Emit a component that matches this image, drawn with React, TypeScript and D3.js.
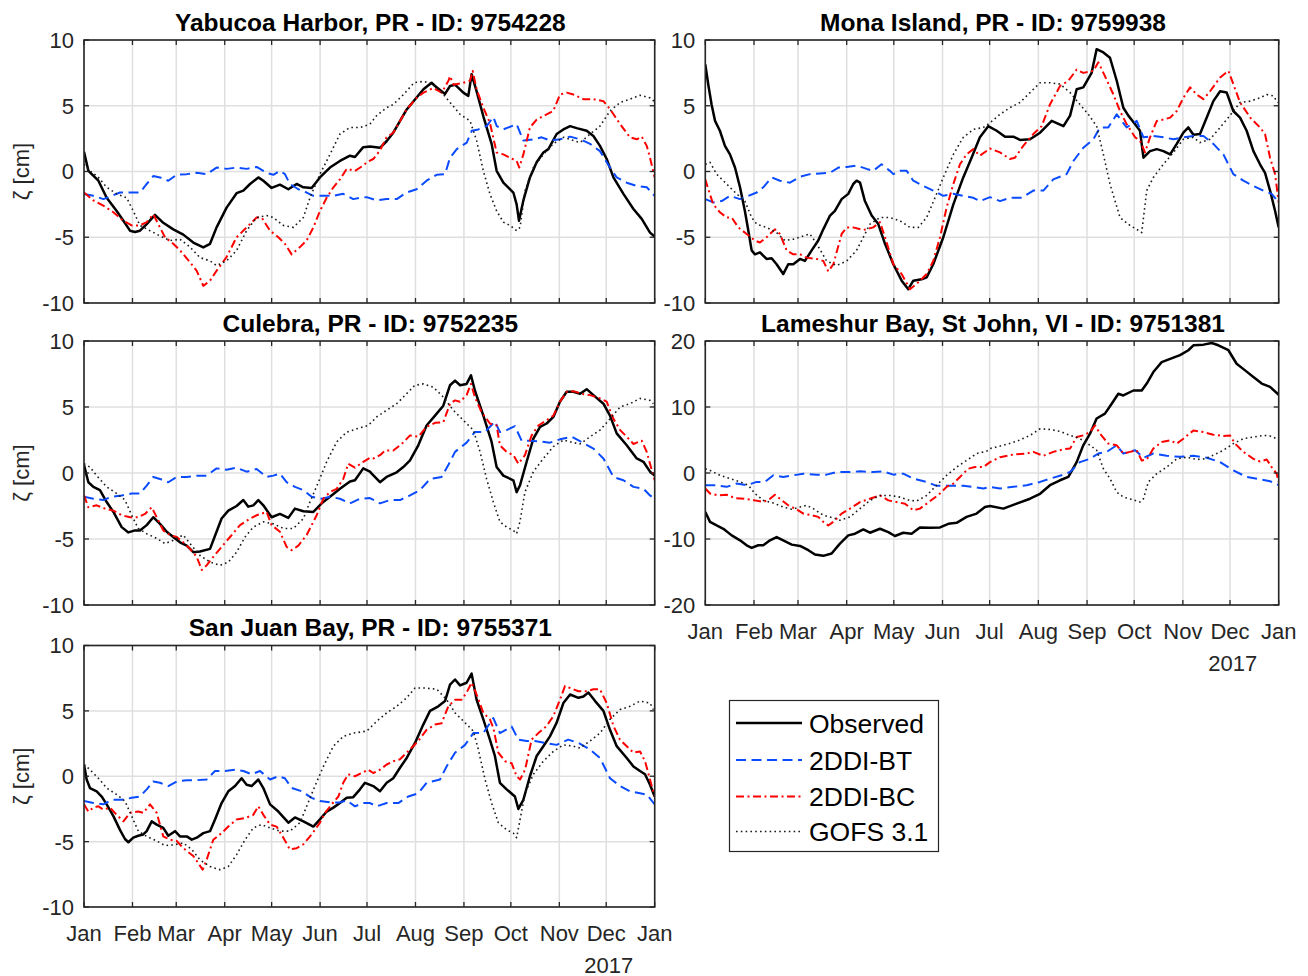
import React from "react";
import * as d3 from "d3";

type Pt = [number, number];

// x values are days after 1 Jan 2017, y values are water level anomaly in cm
const MONTH_LABELS = ["Jan", "Feb", "Mar", "Apr", "May", "Jun", "Jul", "Aug", "Sep", "Oct", "Nov", "Dec", "Jan"];
const YEAR_LABEL = "2017";
const SERIES_NAMES = ["Observed", "2DDI-BT", "2DDI-BC", "GOFS 3.1"];
const STATION_TITLES = [
  "Yabucoa Harbor, PR - ID: 9754228",
  "Mona Island, PR - ID: 9759938",
  "Culebra, PR - ID: 9752235",
  "Lameshur Bay, St John, VI - ID: 9751381",
  "San Juan Bay, PR - ID: 9755371",
];
const Y_TICKS_10 = [-10, -5, 0, 5, 10];
const Y_TICKS_20 = [-20, -10, 0, 10, 20];

const yabucoaObserved: Pt[] = [[0,1.5],[2.8,0.05],[9.2,-0.7],[14.5,-2],[20.9,-3],[25.2,-3.75],[29.4,-4.5],[32.6,-4.6],[35.8,-4.5],[40.1,-4],[45.4,-3.3],[50.7,-3.9],[57.1,-4.4],[63.5,-4.8],[69.9,-5.4],[76.3,-5.77],[80.6,-5.5],[84.8,-4.25],[91.2,-2.75],[97.6,-1.65],[101.9,-1.45],[106.2,-0.95],[111.5,-0.45],[114.7,-0.7],[120,-1.25],[125.3,-1.0],[130.7,-1.35],[136,-0.95],[140.3,-1.2],[145.6,-1.25],[150.9,-0.45],[157.3,0.3],[163.7,0.8],[170.1,1.2],[173.3,1.1],[178.6,1.85],[183,1.9],[189.3,1.8],[193.5,2.3],[197.8,2.95],[206.3,4.7],[211.8,5.5],[217.1,6.25],[222.3,6.75],[224.5,6.5],[230.9,5.9],[234.1,6.5],[237.3,6.6],[242.6,6.0],[245.8,5.75],[247.9,7.4],[251.1,6.1],[255.4,4.2],[260.7,2.1],[263.9,0.05],[268.2,-0.85],[274.6,-1.6],[276.7,-2.5],[278.2,-3.75],[281,-2.2],[285.2,-0.45],[289.5,0.7],[293.8,1.45],[297,1.7],[302.3,2.85],[306.6,3.2],[310.9,3.45],[315.1,3.3],[321.5,3.1],[325.8,2.7],[330,1.95],[334.3,0.95],[338.6,-0.45],[345,-1.7],[351.4,-2.85],[356.7,-3.6],[362,-4.65],[365,-4.95]];
const yabucoaBT: Pt[] = [[0,-1.7],[6,-1.85],[12.4,-2.1],[17.7,-1.85],[23,-1.6],[35.8,-1.6],[40.1,-0.95],[44.3,-0.35],[48.6,-0.45],[53.9,-0.7],[59.3,-0.25],[65.7,-0.2],[72.1,-0.1],[78.4,-0.2],[84.8,0.3],[91.2,0.2],[97.6,0.3],[104,0.2],[110.4,0.35],[116.8,-0.1],[121.1,-0.25],[125.3,0.05],[128.5,-0.2],[131.7,-0.95],[137.1,-1.35],[142.4,-1.6],[146.7,-1.85],[159.5,-1.85],[165.8,-1.7],[172.2,-2.1],[176.5,-2.0],[180.8,-1.95],[187.2,-2.2],[193.5,-2.1],[200,-2.1],[206.3,-1.6],[212.7,-1.35],[219.1,-0.7],[225.5,-0.25],[230.9,-0.2],[234.1,1.05],[238.4,1.7],[244.8,2.2],[248,3.1],[252.2,3.2],[257.5,3.45],[261.8,4.15],[264,3.45],[268.2,3.2],[276.7,3.6],[281,2.35],[287.4,2.45],[292.7,2.6],[298.1,2.35],[304.4,2.45],[310.9,2.65],[317.3,2.45],[323.7,2.1],[330,1.55],[336.4,0.3],[340.7,-0.45],[347.1,-0.85],[353.5,-1.1],[359.9,-1.2],[365,-1.85]];
const yabucoaBC: Pt[] = [[0,-1.6],[6,-2.2],[12.4,-2.6],[18.8,-3.1],[25.2,-3.75],[30.5,-4.1],[35.8,-4.1],[40.1,-3.85],[44.3,-3.25],[47.5,-4.0],[51.8,-5.0],[57.1,-5.5],[61.4,-6.0],[67.8,-6.9],[72.1,-7.55],[76.3,-8.7],[80.6,-8.3],[84.8,-7.55],[91.2,-6.5],[97.6,-5.0],[104,-4.25],[110.4,-3.5],[113.6,-3.5],[119,-4.5],[124.3,-5.0],[128.5,-5.5],[132.8,-6.3],[138.1,-5.75],[142.4,-5.25],[146.7,-4.25],[150.9,-3.0],[155.2,-2.0],[159.5,-1.2],[163.7,-0.6],[168,0.2],[173.3,0.05],[178.6,0.45],[180.8,0.7],[185,0.95],[189.3,1.6],[193.5,2.6],[197.8,2.95],[206.3,4.7],[212.7,5.6],[217.1,6.0],[223.4,6.35],[228.8,6.0],[233.1,6.9],[234.1,7.25],[236.3,6.6],[242.6,6.75],[246.9,6.9],[248.6,7.65],[251.1,6.25],[255.4,4.85],[259.6,3.7],[263.9,1.45],[268.2,1.3],[272.5,1.05],[276.7,0.8],[278.4,0.3],[281,1.3],[285.2,3.35],[289.5,3.95],[295.9,4.35],[300.1,4.6],[304.4,5.85],[308.7,6.0],[313,5.85],[319.4,5.5],[325.8,5.5],[332.2,5.35],[336.4,4.75],[342.9,3.6],[349.2,2.6],[353.5,2.45],[356.7,2.65],[359.9,1.95],[362,1.05],[365,-0.45]];
const yabucoaGOFS: Pt[] = [[0,0.55],[3.8,0.05],[9.2,-0.45],[14.5,-1.2],[20.9,-1.7],[27.3,-2.0],[31.5,-3.0],[35.8,-4.1],[42.2,-4.5],[48.6,-4.9],[55,-5.25],[61.4,-5.15],[67.8,-5.75],[74.2,-6.55],[80.6,-6.8],[84.8,-7.15],[91.2,-6.8],[97.6,-6.0],[104,-4.5],[110.4,-3.5],[116.8,-3.35],[121.1,-3.5],[127.5,-4.1],[133.9,-4.25],[140.3,-3.5],[144.5,-2.0],[150.9,-0.2],[157.3,1.3],[163.7,2.85],[170.1,3.35],[176.5,3.35],[182.9,3.6],[187.2,4.25],[193.5,4.85],[197.8,5.1],[204.3,5.85],[211.1,6.75],[217.1,6.85],[223.4,6.65],[229.9,5.85],[235.2,5.1],[240.5,4.35],[246.9,3.85],[251.1,2.35],[255.4,0.05],[259.6,-1.7],[263.9,-3.0],[268.2,-3.85],[272.5,-4.1],[276.7,-4.5],[278.9,-4.25],[282.1,-1.45],[287.4,0.3],[293.8,1.3],[300.1,2.1],[306.6,2.6],[313,2.35],[317.3,2.2],[323.7,2.85],[330,3.45],[336.4,4.6],[342.9,5.25],[349.2,5.5],[355.6,5.8],[362,5.6],[365,5.3]];

const monaObserved: Pt[] = [[0,8.15],[1.9,6.6],[4,5.1],[6.2,3.85],[9.3,3.1],[12.5,1.95],[15.7,1.3],[18.9,0.3],[22.1,-1.2],[25.2,-3.0],[27.4,-4.5],[29.5,-6.0],[31.6,-6.3],[34.8,-6.15],[39,-6.65],[42.2,-6.6],[45.4,-7.05],[49.6,-7.8],[52.8,-7.05],[56,-7.05],[60.3,-6.65],[63.4,-6.8],[67.7,-6.0],[71.9,-5.25],[75.1,-4.4],[79.4,-3.35],[82.5,-3.0],[86.8,-2.1],[91,-1.7],[94.2,-0.95],[96.3,-0.7],[98.5,-0.85],[101.6,-2.25],[105.9,-3.35],[110.1,-4.0],[114.4,-5.5],[119.7,-7.05],[125,-8.3],[129.2,-8.95],[132.4,-8.3],[137.7,-8.2],[140.9,-8.05],[145.1,-7.05],[151.5,-5.0],[157.9,-2.5],[164.2,-0.45],[169.5,1.05],[174.8,2.6],[180.1,3.45],[185.5,3.1],[190.8,2.65],[196.1,2.65],[200.3,2.4],[206.7,2.45],[213.1,2.95],[220.5,3.85],[228,3.45],[232.2,4.25],[236.4,6.25],[240.6,6.4],[245.9,7.5],[249.1,9.3],[253.4,9.05],[257.6,8.65],[261.9,6.9],[266.1,4.85],[269.3,4.25],[273.6,3.6],[276.7,3.1],[278.9,1.05],[283.1,1.55],[287.4,1.7],[291.6,1.55],[295.9,1.3],[300.1,2.1],[304.3,2.95],[307.5,3.35],[310.7,2.8],[314.9,2.85],[319.2,4.1],[323.4,5.35],[327.7,6.1],[331.9,6.0],[336.1,4.6],[340.4,4.1],[344.6,3.1],[348.9,1.55],[353.1,0.55],[356.3,-0.1],[359.5,-1.45],[362.7,-3.0],[365,-4.25]];
const monaBT: Pt[] = [[0,-2.1],[5.1,-2.35],[10.4,-2.25],[15.7,-1.85],[22.1,-2.1],[27.4,-1.85],[32.7,-1.6],[36.9,-1.2],[42.2,-0.45],[47.5,-0.7],[53.9,-0.85],[60.3,-0.4],[66.6,-0.2],[73,-0.15],[79.4,-0.1],[84.7,0.3],[90,0.35],[96.3,0.45],[102.7,0.2],[106.9,0.05],[112.2,0.55],[117.5,0.05],[119.7,-0.2],[123.9,0.05],[128.2,0.05],[132.4,-0.7],[138.8,-1.1],[145.1,-1.45],[151.5,-1.85],[157.9,-1.7],[164.2,-1.85],[170.6,-2.0],[174.8,-2.25],[181.2,-1.95],[187.6,-2.25],[193.9,-2.0],[201.4,-2.0],[208.8,-1.45],[215.2,-1.45],[221.5,-0.6],[230,-0.2],[234.3,0.8],[240.6,1.8],[247,2.45],[251.2,3.35],[256.5,3.35],[261.9,4.35],[268.2,3.35],[274.6,3.85],[278.9,2.6],[285.2,2.7],[291.6,2.6],[298,2.45],[304.3,2.6],[310.7,2.7],[317.1,2.7],[323.4,2.1],[329.8,1.3],[336.1,-0.2],[342.5,-0.7],[348.9,-1.1],[355.2,-1.45],[360.5,-1.7],[365,-2.35]];
const monaBC: Pt[] = [[0,-0.6],[1.9,-1.35],[5.1,-2.5],[9.3,-3.1],[13.6,-3.5],[16.8,-3.5],[21,-4.25],[26.3,-4.75],[31.6,-5.25],[34.8,-5.4],[39,-5.0],[44.3,-4.4],[47.5,-4.75],[51.8,-6.0],[56,-6.3],[60.3,-6.3],[64.5,-6.55],[70.9,-6.65],[75.1,-6.8],[78.3,-7.6],[81.5,-7.05],[86.8,-4.75],[90,-4.25],[94.2,-4.25],[100.6,-4.45],[106.9,-4.25],[111.2,-3.85],[114.4,-5.0],[119.7,-7.05],[125,-7.8],[130.3,-8.95],[134.5,-8.55],[140.9,-7.8],[145.1,-6.8],[149.4,-5.0],[153.6,-2.75],[157.9,-0.95],[162.1,0.55],[166.3,1.3],[170.6,1.7],[174.8,1.2],[181.2,1.75],[187.6,1.45],[193.9,0.95],[197.1,1.05],[202.4,1.95],[208.8,2.85],[214.1,3.45],[219.4,5.1],[225.8,6.5],[231.1,6.9],[236.4,7.75],[240.6,7.5],[247,7.65],[250.2,8.3],[254.4,7.25],[259.8,5.85],[264,4.6],[268.2,3.6],[273.6,2.6],[276.7,2.35],[279.9,1.45],[283.1,2.6],[287.4,3.85],[291.6,3.95],[295.9,4.1],[300.1,4.6],[304.3,5.6],[308.6,6.4],[312.8,5.85],[317.1,5.5],[321.3,6.1],[327.7,7.15],[333,7.65],[336.1,6.65],[340.4,5.25],[346.9,4.1],[353.1,3.35],[356.3,2.85],[359.5,1.05],[362.7,-0.2],[365,-2.35]];
const monaGOFS: Pt[] = [[0,0.55],[3,0.7],[7.2,-0.2],[13.6,-0.95],[19.9,-1.7],[25.2,-2.25],[29.5,-3.5],[32.7,-4.0],[39,-4.25],[45.4,-4.65],[50.7,-5.25],[56,-5.15],[62.4,-4.9],[66.6,-4.75],[70.9,-5.5],[77.2,-6.8],[83.6,-7.15],[90,-6.8],[96.3,-6.0],[100.6,-5.0],[104.8,-4.0],[111.2,-3.5],[117.5,-3.5],[123.9,-3.75],[130.3,-4.25],[135.6,-4.25],[140.9,-3.5],[146.2,-2.0],[151.5,-0.45],[157.9,1.3],[164.2,2.6],[170.6,3.2],[177,3.35],[181.2,3.7],[187.6,4.35],[193.9,4.85],[200.3,5.25],[206.7,6.0],[213.1,6.75],[219.4,6.75],[225.8,6.65],[232.2,6.0],[238.5,5.1],[243.8,4.35],[249.1,3.45],[253.4,1.3],[257.6,-0.95],[264,-3.5],[270.3,-4.1],[274.6,-4.4],[277.8,-4.65],[281,-1.45],[285.2,-0.45],[291.6,0.55],[298,1.45],[304.3,2.45],[310.7,2.6],[314.9,2.2],[321.3,2.45],[327.7,3.35],[334,4.25],[340.4,5.25],[346.9,5.35],[353.1,5.6],[357.4,5.85],[361.6,5.75],[364.4,5.25]];

const culebraObserved: Pt[] = [[0,0.6],[2.8,-0.7],[6,-1.05],[10.2,-1.3],[14.5,-2.2],[18.8,-2.95],[24.1,-4.1],[28.4,-4.5],[32.6,-4.35],[35.8,-4.35],[40.1,-3.95],[44.3,-3.35],[48.6,-3.85],[52.9,-4.45],[57.1,-4.85],[61.4,-5.25],[65.7,-5.5],[69.9,-6.0],[74.2,-5.95],[80.6,-5.75],[83.8,-4.75],[88,-3.45],[92.3,-2.85],[97.6,-2.5],[101.9,-2.05],[105.1,-2.55],[108.3,-2.45],[111.5,-2.05],[114.7,-2.45],[120,-3.35],[125.3,-3.1],[130.7,-3.4],[134.9,-2.7],[140.3,-2.9],[146.7,-2.95],[152,-2.3],[157.3,-1.8],[163.7,-1.2],[170.1,-0.65],[173.3,-0.55],[178.6,0.35],[182.9,0.1],[184,-0.05],[189.3,-0.7],[193.5,-0.3],[200,0.05],[204.2,0.45],[208.5,0.95],[213.8,2.1],[219.1,3.6],[224.5,4.35],[229.8,5.1],[234.1,6.65],[237.3,7.0],[240.5,6.65],[244.7,6.75],[247.5,7.4],[250,6.25],[255.4,4.35],[260.7,2.35],[263.9,0.45],[268.2,-0.2],[274.6,-0.55],[276.7,-1.45],[278.8,-0.95],[283.1,0.85],[287.4,2.6],[291.7,3.5],[295.9,3.75],[300.2,4.25],[304.4,5.4],[308.7,6.15],[313,6.15],[317.3,6.0],[321.5,6.35],[325.8,5.9],[332.2,5.25],[336.4,4.35],[340.7,3.0],[347.1,2.1],[353.5,1.1],[357.8,0.85],[362,0.1],[365,-0.2]];
const culebraBT: Pt[] = [[0,-1.8],[6,-1.95],[12.4,-2.05],[17.7,-1.8],[24.1,-1.7],[30.5,-1.55],[35.8,-1.55],[40.1,-0.95],[44.3,-0.3],[48.6,-0.45],[53.9,-0.7],[59.3,-0.3],[65.7,-0.3],[72.1,-0.2],[78.4,-0.2],[84.8,0.35],[91.2,0.25],[97.6,0.4],[104,0.1],[110.4,0.3],[116.8,-0.3],[121.1,-0.2],[125.3,-0.05],[129.6,-0.7],[134.9,-1.05],[140.3,-1.3],[145.6,-1.8],[152,-1.95],[157.3,-1.8],[163.7,-1.95],[170.1,-2.3],[176.5,-1.95],[182.9,-1.9],[189.3,-2.3],[195.7,-2.05],[202.1,-2.05],[208.5,-1.7],[214.9,-1.3],[221.3,-0.45],[228.7,-0.3],[233,0.6],[237.3,1.6],[244.7,2.3],[250,3.1],[256.4,3.1],[262.8,3.9],[266,3.1],[270.3,3.25],[275.6,3.55],[279.9,2.45],[285.2,2.45],[291.6,2.4],[298,2.3],[304.4,2.55],[311.8,2.75],[318.2,2.35],[325.8,1.85],[332.2,1.1],[338.6,-0.3],[345,-0.55],[351.4,-1.05],[357.8,-1.2],[362,-1.7],[365,-1.95]];
const culebraBC: Pt[] = [[0,-1.7],[2.8,-2.6],[8.1,-2.45],[13.4,-2.7],[18.8,-2.85],[24.1,-3.2],[29.4,-3.35],[34.7,-3.35],[39,-3.1],[43.3,-2.6],[46.5,-3.35],[50.7,-4.35],[55,-4.7],[59.3,-4.85],[63.5,-5.25],[67.8,-5.75],[72.1,-6.35],[75.3,-7.35],[78.4,-7.0],[82.7,-6.35],[88,-5.6],[93.4,-4.85],[99.8,-3.95],[106.2,-3.45],[110.4,-3.2],[116.8,-2.95],[120,-3.95],[125.3,-4.45],[129.6,-5.6],[132.8,-5.85],[137.1,-5.5],[142.4,-4.7],[148.8,-3.2],[153.1,-1.95],[157.3,-1.45],[161.6,-1.2],[165.8,-0.45],[169,0.7],[173.3,0.4],[178.6,0.85],[182.9,1.15],[185,1.1],[189.3,1.35],[192.5,1.7],[197.8,1.7],[203.2,2.2],[208.5,2.85],[213.8,2.75],[219.1,3.5],[224.5,3.8],[229.8,3.85],[234.1,5.25],[237.3,5.5],[240.5,5.4],[244.7,5.9],[247.5,6.75],[250,5.75],[254.3,4.6],[259.6,3.75],[263.9,3.6],[266,2.1],[270.3,1.6],[274.6,1.35],[277.8,0.7],[282,1.35],[286.3,2.85],[290.6,3.6],[295.9,4.0],[300.2,4.35],[304.4,5.4],[308.7,6.15],[313,6.2],[318.3,6.0],[323.7,5.9],[330,5.65],[334.3,5.4],[338.6,4.1],[342.9,3.25],[347.1,2.75],[351.4,2.2],[356.7,2.45],[359.9,1.6],[362,0.7],[365,-0.55]];
const culebraGOFS: Pt[] = [[0,0.7],[3.8,0.45],[8.1,-0.2],[14.5,-1.05],[20.9,-1.55],[26.2,-2.05],[30.5,-3.2],[34.7,-4.2],[40.1,-4.6],[46.5,-4.95],[51.8,-5.35],[57.1,-5.1],[63.5,-4.7],[68.9,-5.5],[74.2,-6.25],[80.6,-6.75],[87,-7.0],[92.3,-6.75],[97.6,-6.0],[103,-4.85],[108.3,-4.1],[114.7,-3.7],[121.1,-3.85],[127.5,-4.2],[133.9,-4.2],[140.3,-3.45],[144.5,-2.2],[149.9,-0.7],[155.2,0.85],[161.6,2.35],[168,3.1],[174.4,3.35],[181.8,3.6],[187.2,4.25],[193.5,4.75],[200,5.25],[206.3,6.0],[211.6,6.65],[217.1,6.75],[223.4,6.5],[229.8,5.75],[236.2,4.75],[242.6,4.0],[249,3.25],[253.3,1.6],[257.5,-0.45],[261.8,-2.2],[266,-3.7],[270.3,-4.1],[274.6,-4.35],[276.7,-4.6],[278.8,-3.7],[282,-1.45],[287.4,0.1],[293.8,1.1],[300.2,2.0],[306.6,2.5],[313,2.3],[317.3,2.2],[323.7,2.75],[330,3.25],[336.4,4.1],[342.9,5.0],[349.2,5.25],[355.6,5.65],[362,5.5],[364.1,5.25]];

const lameshurObserved: Pt[] = [[0,-5.9],[3,-7.4],[7.2,-7.95],[11.5,-8.45],[16.8,-9.45],[22.1,-10.2],[26.3,-10.95],[29.5,-11.35],[33.7,-10.95],[36.9,-10.95],[41.2,-10.2],[45.4,-9.7],[49.6,-10.2],[55,-10.85],[60.3,-11.05],[65.6,-11.7],[69.8,-12.35],[75.1,-12.55],[80.4,-12.2],[85.7,-10.7],[91,-9.45],[95.3,-9.2],[100.6,-8.55],[104.8,-9.05],[111.2,-8.45],[116.5,-8.95],[120.7,-9.55],[126,-9.05],[131.3,-9.2],[136.6,-8.25],[143,-8.3],[149.4,-8.25],[154.7,-7.7],[160,-7.55],[166.3,-6.65],[172.7,-6.15],[178,-5.15],[181.2,-5.0],[189.7,-5.4],[198.2,-4.65],[206.7,-3.9],[213.1,-3.15],[219.4,-1.85],[225.8,-1.1],[231.1,-0.6],[236.4,1.65],[240.6,4.2],[244.9,5.95],[249.1,8.25],[254.4,9.0],[258.7,10.5],[262.9,12.0],[266.1,11.75],[272.5,12.5],[277.8,12.5],[281,13.55],[285.2,15.3],[290.5,16.8],[295.9,17.3],[302.2,17.85],[307.5,18.6],[310.7,19.35],[317.1,19.45],[322.4,19.7],[326.6,19.35],[333,18.6],[338.2,16.55],[343.6,15.55],[348.9,14.55],[354.2,13.55],[359.5,13.05],[365,11.85]];
const lameshurBT: Pt[] = [[0,-1.85],[7.2,-1.85],[13.6,-2.1],[19.9,-1.6],[26.3,-1.85],[32.7,-1.35],[38,-1.35],[43.3,-0.35],[49.6,-0.6],[56,-0.35],[62.4,-0.1],[70.9,-0.25],[77.2,-0.25],[83.6,0.15],[92.1,0.15],[98.5,0.25],[106.9,0.15],[113.3,0.25],[119.7,-0.25],[126,-0.1],[132.4,-0.85],[140.9,-1.35],[147.3,-1.95],[155.7,-1.95],[164.2,-1.95],[170.6,-2.1],[177,-2.35],[181.2,-2.1],[187.6,-2.35],[196.1,-2.1],[204.6,-1.85],[213.1,-1.35],[219.4,-0.85],[226.8,-0.35],[232.2,0.15],[238.5,1.65],[244.9,2.15],[250.2,2.95],[255.5,3.2],[261.9,4.2],[266.1,2.95],[273.6,3.45],[278.9,2.3],[285.2,2.95],[293.7,2.6],[302.2,2.45],[310.7,2.6],[319.2,2.3],[327.7,1.65],[336.1,0.4],[344.6,-0.6],[353.1,-0.95],[359.5,-1.25],[365,-1.85]];
const lameshurBC: Pt[] = [[0,-2.35],[3,-3.1],[8.3,-3.4],[13.6,-3.3],[18.9,-3.8],[25.2,-3.9],[31.6,-4.15],[36.9,-4.4],[41.2,-3.9],[44.3,-3.3],[47.5,-3.9],[52.8,-4.9],[58.1,-5.5],[62.4,-6.15],[67.7,-6.4],[71.9,-6.65],[75.1,-7.4],[78.3,-7.95],[81.5,-7.4],[86.8,-6.15],[92.1,-5.4],[98.5,-4.4],[104.8,-3.9],[111.2,-3.4],[116.5,-4.15],[121.8,-4.4],[127.1,-4.65],[132.4,-5.65],[136.6,-5.4],[140.9,-4.65],[145.1,-3.9],[149.4,-3.1],[153.6,-2.1],[157.9,-1.6],[162.1,-0.6],[167.4,0.65],[171.7,0.9],[177,0.9],[181.2,1.65],[187.6,2.4],[196.1,2.8],[204.6,2.95],[208.8,3.2],[215.2,2.6],[221.5,3.2],[228,3.6],[232.2,3.7],[236.4,5.45],[240.6,5.7],[244.9,6.2],[248.1,7.2],[251.3,5.95],[256.5,4.45],[261.9,4.2],[266.1,2.95],[270.3,3.2],[274.6,3.45],[277.8,1.9],[281,2.05],[285.2,3.7],[290.5,4.7],[295.9,4.95],[300.1,4.45],[304.3,5.2],[310.7,6.45],[317.1,6.2],[323.4,5.8],[329.8,5.6],[334,5.7],[337.2,4.45],[342.5,3.2],[348.9,2.15],[353.1,1.75],[357.4,2.05],[360.5,0.9],[363.7,-0.1],[365,-1.35]];
const lameshurGOFS: Pt[] = [[0,0.65],[3,0.4],[9.3,-0.35],[15.7,-0.85],[22.1,-1.35],[27.4,-1.85],[31.6,-3.1],[36.9,-4.15],[43.3,-4.55],[49.6,-5.15],[55,-5.5],[60.3,-5.15],[64.5,-4.9],[68.7,-5.4],[75.1,-6.4],[81.5,-6.8],[85.7,-7.15],[92.1,-6.65],[98.5,-5.4],[104.8,-4.15],[111.2,-3.4],[117.5,-3.4],[123.9,-3.65],[130.3,-4.15],[134.5,-4.25],[140.9,-3.4],[147.3,-1.85],[153.6,-0.35],[160,0.9],[166.3,1.9],[172.7,2.95],[179.1,3.3],[181.2,3.7],[189.7,4.2],[198.2,4.8],[206.7,5.7],[213.1,6.7],[219.4,6.6],[225.8,6.3],[232.2,5.7],[238.5,5.2],[244.9,4.2],[249.1,3.45],[253.4,0.65],[257.6,-0.85],[261.9,-2.9],[266.1,-3.65],[271.4,-4.0],[276.7,-4.4],[278.9,-3.9],[282,-1.35],[287.4,-0.1],[293.7,0.9],[300.1,2.15],[306.5,2.4],[312.8,2.05],[318.1,2.15],[323.4,2.7],[329.8,3.45],[336.1,4.45],[342.5,5.2],[348.9,5.45],[355.2,5.7],[359.5,5.6],[363.7,5.2]];

const sanJuanObserved: Pt[] = [[0,0.9],[1.7,-0.25],[3.8,-0.9],[8.1,-1.15],[11.3,-1.55],[14.5,-2.15],[18.8,-3.05],[23,-4.1],[26.2,-4.8],[28.4,-5.05],[31.5,-4.7],[34.7,-4.55],[37.9,-4.45],[40.1,-4.2],[43.3,-3.45],[46.5,-3.7],[50.7,-3.95],[53.9,-4.55],[58.2,-4.2],[61.4,-4.6],[65.7,-4.6],[68.9,-4.85],[72.1,-4.7],[76.3,-4.35],[80.6,-4.2],[83.8,-3.3],[88,-2.05],[92.3,-1.15],[96.6,-0.75],[100.8,-0.15],[104,-0.65],[107.2,-0.75],[111.5,-0.25],[114.7,-0.9],[119,-2.15],[124.3,-2.7],[130.7,-3.55],[134.9,-3.15],[140.3,-3.45],[146.7,-3.85],[150.9,-3.3],[155.2,-2.7],[159.5,-2.4],[163.7,-2.05],[168,-1.65],[172.2,-1.6],[176.5,-1.0],[179.7,-0.5],[185,-0.75],[189.3,-1.15],[193.6,-0.5],[197.8,-0.15],[202.1,0.65],[206.4,1.4],[211.7,2.55],[217,3.95],[221.3,5.0],[226.6,5.35],[230.9,5.75],[234.1,7.0],[237.3,7.4],[240.5,6.95],[244.7,7.15],[247.9,7.85],[251.1,5.85],[255.4,4.35],[259.6,2.8],[262.8,1.55],[266,-0.5],[270.3,-1.0],[275.6,-1.55],[277.8,-2.5],[281,-1.8],[285.2,0.0],[289.5,1.55],[293.8,2.3],[298,3.05],[302.3,4.1],[306.6,5.6],[310.9,6.25],[316.2,6.0],[319.4,6.1],[322.6,6.4],[326.9,5.75],[332.2,5.0],[336.4,3.55],[340.7,2.3],[347.1,1.4],[351.4,0.75],[355.6,0.4],[358.8,0.15],[362,-0.65],[365,-1.55]];
const sanJuanBT: Pt[] = [[0,-1.9],[6,-2.05],[12.4,-2.15],[17.7,-1.8],[24.1,-1.8],[30.5,-1.65],[35.8,-1.55],[40.1,-1.0],[44.3,-0.4],[48.6,-0.5],[53.9,-0.75],[59.3,-0.4],[65.7,-0.3],[72.1,-0.3],[78.4,-0.25],[83.8,0.4],[90.2,0.4],[96.6,0.5],[101.9,0.4],[107.2,0.15],[112.6,0.4],[119,-0.25],[124.3,0.0],[128.5,-0.15],[132.8,-0.9],[139.2,-1.15],[145.6,-1.65],[150.9,-1.9],[157.3,-2.0],[163.7,-2.0],[168,-1.85],[173.3,-2.3],[178.6,-2.05],[182.9,-2.05],[187.2,-2.3],[193.6,-2.05],[201,-2.05],[207.4,-1.55],[213.8,-1.3],[219.1,-0.5],[227.7,-0.25],[231.9,0.75],[237.3,1.8],[243.7,2.4],[249,3.3],[255.4,3.3],[261.8,4.45],[266,3.3],[273.5,3.8],[277.8,2.8],[283.1,2.7],[288.4,2.7],[294.8,2.55],[302.3,2.4],[309.7,2.8],[316.2,2.55],[323.6,2.05],[330,1.4],[336.4,-0.15],[342.8,-0.75],[349.2,-1.15],[355.6,-1.3],[359.9,-1.4],[365,-2.15]];
const sanJuanBC: Pt[] = [[0,-2.15],[2.8,-2.7],[6,-2.4],[9.2,-2.3],[12.4,-2.55],[16.6,-2.4],[20.9,-2.95],[25.2,-3.45],[29.4,-2.8],[34.7,-2.7],[37.9,-2.8],[42.2,-2.15],[46.5,-2.8],[50.7,-4.6],[55,-4.85],[59.3,-4.95],[63.5,-5.5],[69.9,-6.1],[73.1,-6.65],[75.9,-7.15],[78.4,-6.4],[82.7,-4.85],[88,-4.35],[92.3,-3.85],[97.6,-3.3],[103,-3.2],[108.3,-2.95],[111.5,-2.3],[114.7,-2.95],[119,-3.7],[123.2,-3.85],[127.5,-4.7],[131.7,-5.6],[136,-5.5],[140.3,-5.2],[145.6,-4.45],[150.9,-3.55],[154.1,-2.8],[158.4,-2.15],[162.7,-1.55],[165.8,-0.5],[169,0.15],[173.3,0.0],[177.6,0.25],[181.8,0.5],[185,0.25],[189.3,0.5],[193.6,0.9],[197.8,1.15],[202.1,1.3],[208.5,2.05],[213.8,2.7],[219.1,3.55],[224.5,3.95],[228.7,4.05],[233,5.35],[237.3,5.85],[241.5,5.85],[244.7,6.4],[247.9,7.15],[251.1,6.25],[255.4,4.85],[259.6,4.35],[261.8,3.7],[265,1.8],[269.3,1.15],[273.5,1.0],[276.7,0.0],[278.9,-0.25],[282.1,0.5],[286.3,2.8],[290.6,3.3],[295.9,3.85],[300.2,4.6],[304.4,5.85],[307.6,6.9],[310.9,6.75],[316.2,6.5],[321.5,6.5],[325.8,6.65],[330,6.65],[334.3,5.6],[338.6,3.85],[342.8,2.8],[347.1,2.3],[351.4,1.8],[355.6,1.9],[358.8,1.15],[362,-0.25],[365,-1.55]];
const sanJuanGOFS: Pt[] = [[0,0.9],[3.8,0.5],[9.2,-0.15],[14.5,-0.9],[20.9,-1.4],[26.2,-1.9],[30.5,-3.05],[34.7,-4.2],[40.1,-4.6],[46.5,-4.95],[51.8,-5.3],[57.1,-5.25],[63.5,-5.1],[68.9,-5.6],[74.2,-6.4],[80.6,-6.9],[87,-7.15],[92.3,-6.9],[97.6,-6.0],[103,-4.85],[108.3,-3.95],[113.6,-3.7],[119,-3.95],[125.3,-4.2],[131.7,-4.2],[138.1,-3.55],[142.4,-2.3],[147.7,-0.75],[153.1,0.75],[159.5,2.3],[165.8,3.05],[172.2,3.3],[180.8,3.45],[187.2,4.2],[193.6,4.85],[200,5.35],[206.4,6.0],[211.7,6.75],[218.1,6.75],[225.6,6.65],[232,5.85],[237.3,4.85],[243.7,4.1],[249,3.45],[252.2,2.05],[256.5,-0.25],[260.7,-2.05],[265,-3.55],[270.3,-4.1],[274.6,-4.35],[276.7,-4.7],[278.9,-3.3],[282.1,-1.3],[287.4,0.15],[293.8,1.15],[300.2,1.9],[306.6,2.4],[313,2.3],[317.3,2.15],[323.6,2.7],[330,3.3],[336.4,4.35],[342.8,5.1],[349.2,5.35],[355.6,5.75],[362,5.6],[364.1,5.1]];

const FONT = "'Liberation Sans', Arial, Helvetica, sans-serif";
const AXIS_COLOR = "#262626";
const GRID_COLOR = "#dfdfdf";

const SERIES_STYLES = [
  { color: "#000000", width: 2.5, dash: undefined as string | undefined },
  { color: "#0a4bff", width: 2, dash: "10 5.5" },
  { color: "#ff0000", width: 2, dash: "8 3.5 2 3.5" },
  { color: "#1a1a1a", width: 1.6, dash: "1.6 3.2" },
];

type Panel = {
  title: string;
  yDomain: [number, number];
  yTicks: number[];
  series: Pt[][];
  box: { x0: number; x1: number; y0: number; y1: number };
  xLabels: boolean;
  yLabel: boolean;
};

const PANELS: Panel[] = [
  { title: STATION_TITLES[0], yDomain: [-10, 10], yTicks: Y_TICKS_10, series: [yabucoaObserved, yabucoaBT, yabucoaBC, yabucoaGOFS], box: { x0: 84, x1: 654.7, y0: 40, y1: 303 }, xLabels: false, yLabel: true },
  { title: STATION_TITLES[1], yDomain: [-10, 10], yTicks: Y_TICKS_10, series: [monaObserved, monaBT, monaBC, monaGOFS], box: { x0: 705.3, x1: 1278.7, y0: 40, y1: 303 }, xLabels: false, yLabel: false },
  { title: STATION_TITLES[2], yDomain: [-10, 10], yTicks: Y_TICKS_10, series: [culebraObserved, culebraBT, culebraBC, culebraGOFS], box: { x0: 84, x1: 654.7, y0: 341, y1: 605 }, xLabels: false, yLabel: true },
  { title: STATION_TITLES[3], yDomain: [-20, 20], yTicks: Y_TICKS_20, series: [lameshurObserved, lameshurBT, lameshurBC, lameshurGOFS], box: { x0: 705.3, x1: 1278.7, y0: 341, y1: 605 }, xLabels: true, yLabel: false },
  { title: STATION_TITLES[4], yDomain: [-10, 10], yTicks: Y_TICKS_10, series: [sanJuanObserved, sanJuanBT, sanJuanBC, sanJuanGOFS], box: { x0: 84, x1: 654.7, y0: 645.5, y1: 907 }, xLabels: true, yLabel: true },
];

const T0 = Date.UTC(2017, 0, 1);
const T1 = Date.UTC(2018, 0, 1);
const DAY_MS = 86400000;
const dayToDate = (d: number) => new Date(T0 + d * DAY_MS);
const MONTH_TICKS = d3.utcMonth.range(new Date(T0), new Date(T1 + 1));

function ChartPanel({ p, idx }: { p: Panel; idx: number }) {
  const { x0, x1, y0, y1 } = p.box;
  const x = d3.scaleUtc().domain([new Date(T0), new Date(T1)]).range([x0, x1]);
  const y = d3.scaleLinear().domain(p.yDomain).range([y1, y0]);
  const line = d3
    .line<Pt>()
    .x((d) => x(dayToDate(d[0])))
    .y((d) => y(d[1]));
  const clipId = `clip-${idx}`;
  const tickLen = 5;
  const fs = 22;
  return (
    <g>
      <defs>
        <clipPath id={clipId}>
          <rect x={x0} y={y0} width={x1 - x0} height={y1 - y0} />
        </clipPath>
      </defs>
      <rect x={x0} y={y0} width={x1 - x0} height={y1 - y0} fill="#ffffff" />
      {/* grid */}
      {MONTH_TICKS.map((t, i) => (
        <line key={`gx${i}`} x1={x(t)} x2={x(t)} y1={y0} y2={y1} stroke={GRID_COLOR} strokeWidth={1.5} />
      ))}
      {p.yTicks.map((v, i) => (
        <line key={`gy${i}`} x1={x0} x2={x1} y1={y(v)} y2={y(v)} stroke={GRID_COLOR} strokeWidth={1.5} />
      ))}
      {/* series */}
      <g clipPath={`url(#${clipId})`}>
        {p.series.map((s, i) => (
          <path
            key={`s${i}`}
            d={line(s) || ""}
            fill="none"
            stroke={SERIES_STYLES[i].color}
            strokeWidth={SERIES_STYLES[i].width}
            strokeDasharray={SERIES_STYLES[i].dash}
            strokeLinejoin="round"
          />
        ))}
      </g>
      {/* ticks on all four sides */}
      {MONTH_TICKS.map((t, i) => (
        <g key={`tx${i}`}>
          <line x1={x(t)} x2={x(t)} y1={y1} y2={y1 - tickLen} stroke={AXIS_COLOR} strokeWidth={1.3} />
          <line x1={x(t)} x2={x(t)} y1={y0} y2={y0 + tickLen} stroke={AXIS_COLOR} strokeWidth={1.3} />
        </g>
      ))}
      {p.yTicks.map((v, i) => (
        <g key={`ty${i}`}>
          <line x1={x0} x2={x0 + tickLen} y1={y(v)} y2={y(v)} stroke={AXIS_COLOR} strokeWidth={1.3} />
          <line x1={x1} x2={x1 - tickLen} y1={y(v)} y2={y(v)} stroke={AXIS_COLOR} strokeWidth={1.3} />
        </g>
      ))}
      <rect x={x0} y={y0} width={x1 - x0} height={y1 - y0} fill="none" stroke={AXIS_COLOR} strokeWidth={1.6} />
      {/* y tick labels */}
      {p.yTicks.map((v, i) => (
        <text key={`ly${i}`} x={x0 - 10} y={y(v)} dy="0.36em" textAnchor="end" fontSize={fs} fill={AXIS_COLOR} fontFamily={FONT}>
          {v}
        </text>
      ))}
      {/* x tick labels */}
      {p.xLabels &&
        MONTH_TICKS.map((t, i) => (
          <text key={`lx${i}`} x={x(t)} y={y1 + 33.5} textAnchor="middle" fontSize={fs} fill={AXIS_COLOR} fontFamily={FONT}>
            {MONTH_LABELS[i]}
          </text>
        ))}
      {p.xLabels && (
        <text x={x1 - 46} y={y1 + 65.5} textAnchor="middle" fontSize={fs} fill={AXIS_COLOR} fontFamily={FONT}>
          {YEAR_LABEL}
        </text>
      )}
      {p.yLabel && (
        <text
          transform={`translate(29, ${(y0 + y1) / 2}) rotate(-90)`}
          textAnchor="middle"
          fontSize={fs}
          fill={AXIS_COLOR}
          fontFamily={FONT}
        >
          ζ [cm]
        </text>
      )}
      <text x={(x0 + x1) / 2 + 1} y={y0 - 9.5} textAnchor="middle" fontSize={24.5} fontWeight="bold" fill="#000" fontFamily={FONT}>
        {p.title}
      </text>
    </g>
  );
}

function Legend() {
  const bx = 729.5;
  const by = 700.5;
  const rows = [732.5, 769.5, 806, 841];
  return (
    <g>
      <rect x={bx} y={by} width={209} height={151} fill="#ffffff" stroke={AXIS_COLOR} strokeWidth={1.2} />
      {SERIES_NAMES.map((name, i) => (
        <g key={name}>
          <line
            x1={736}
            x2={802}
            y1={rows[i] - 9.5}
            y2={rows[i] - 9.5}
            stroke={SERIES_STYLES[i].color}
            strokeWidth={SERIES_STYLES[i].width}
            strokeDasharray={SERIES_STYLES[i].dash}
          />
          <text x={809} y={rows[i]} fontSize={26.5} fill="#000" fontFamily={FONT}>
            {name}
          </text>
        </g>
      ))}
    </g>
  );
}

export default function App() {
  return (
    <svg
      width={1308}
      height={976}
      viewBox="0 0 1308 976"
      style={{ position: "absolute", left: 0, top: 0, background: "#ffffff" }}
    >
      <rect x={0} y={0} width={1308} height={976} fill="#ffffff" />
      {PANELS.map((p, i) => (
        <ChartPanel key={i} p={p} idx={i} />
      ))}
      <Legend />
    </svg>
  );
}
